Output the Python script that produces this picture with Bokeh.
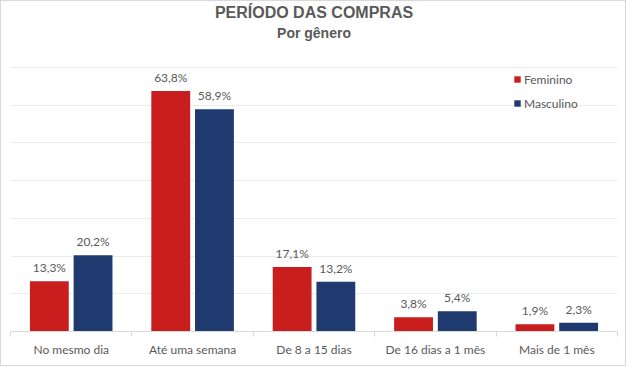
from bokeh.plotting import figure
from bokeh.models import ColumnDataSource, FixedTicker, Range1d, Legend, LegendItem
from bokeh.transform import dodge
from bokeh.core.properties import value
from bokeh.embed import file_html
from bokeh.resources import INLINE

categories = ["No mesmo dia", "Até uma semana", "De 8 a 15 dias", "De 16 dias a 1 mês", "Mais de 1 mês"]
feminino = [13.3, 63.8, 17.1, 3.8, 1.9]
masculino = [20.2, 58.9, 13.2, 5.4, 2.3]
series_names = ["Feminino", "Masculino"]
colors = ["#C81E1E", "#1F3A6E"]
title_text = "PERÍODO DAS COMPRAS"
subtitle_text = "Por gênero"
grid_ticks = [0, 10, 20, 30, 40, 50, 60, 70]

def fmt(v):
    return f"{v:.1f}%".replace(".", ",")

xpos = [i + 0.5 for i in range(len(categories))]
src = ColumnDataSource(dict(
    x=xpos, fem=feminino, mas=masculino,
    fem_lbl=[fmt(v) for v in feminino], mas_lbl=[fmt(v) for v in masculino],
))

GRAY = "#595959"
FONT = "Lato"

# frame spans the full inner height (330px); 70 units occupy the lower 264px
FRAME_H = 330
UNIT = 264.0 / 70.0
y_top = FRAME_H / UNIT

p = figure(width=626, height=366, output_backend="svg", toolbar_location=None,
           x_range=Range1d(0, len(categories)), y_range=Range1d(0, y_top),
           min_border_left=9, min_border_right=10, min_border_top=0, min_border_bottom=36,
           styles={"border": "1px solid #D9D9D9"})
p.outline_line_color = None

r1 = p.vbar(x=dodge("x", -0.18, range=p.x_range), top="fem", width=0.32, source=src,
            fill_color=colors[0], line_color=None)
r2 = p.vbar(x=dodge("x", 0.18, range=p.x_range), top="mas", width=0.32, source=src,
            fill_color=colors[1], line_color=None)

for off, col, lbl in [(-0.18, "fem", "fem_lbl"), (0.18, "mas", "mas_lbl")]:
    p.text(x=dodge("x", off, range=p.x_range), y=col, text=lbl, source=src,
           text_align="center", text_baseline="bottom", y_offset=-6,
           text_font=value(FONT), text_font_size="12px", text_color=GRAY)

# titles
p.text(x=[len(categories) / 2], y=[(FRAME_H - 11) / UNIT], text=[title_text],
       text_align="center", text_baseline="middle", text_font=value("Liberation Sans"),
       text_font_size="16px", text_font_style="bold", text_color=GRAY)
p.text(x=[len(categories) / 2], y=[(FRAME_H - 31) / UNIT], text=[subtitle_text],
       text_align="center", text_baseline="middle", text_font=value("Liberation Sans"),
       text_font_size="14px", text_font_style="bold", text_color=GRAY)

p.yaxis.visible = False
p.ygrid.ticker = FixedTicker(ticks=grid_ticks)
p.ygrid.grid_line_color = "#EBEBEB"
p.xgrid.visible = False

ax = p.xaxis[0]
ax.ticker = FixedTicker(ticks=xpos, minor_ticks=list(range(len(categories) + 1)))
ax.major_label_overrides = {x: c for x, c in zip(xpos, categories)}
ax.major_tick_line_color = None
ax.minor_tick_line_color = "#D9D9D9"
ax.minor_tick_in = 0
ax.minor_tick_out = 5
ax.axis_line_color = "#D9D9D9"
ax.major_label_text_font = FONT
ax.major_label_text_font_size = "12px"
ax.major_label_text_color = GRAY
ax.major_label_standoff = 4

legend = Legend(items=[LegendItem(label=series_names[0], renderers=[r1]),
                       LegendItem(label=series_names[1], renderers=[r2])],
                location=(503, 218), glyph_width=8, glyph_height=8, label_height=20,
                spacing=4, padding=0, margin=0, label_standoff=3,
                label_text_font=FONT, label_text_font_size="12px", label_text_color=GRAY,
                border_line_color=None, background_fill_alpha=0)
p.add_layout(legend)

open("out.html", "w").write(file_html(p, INLINE))
